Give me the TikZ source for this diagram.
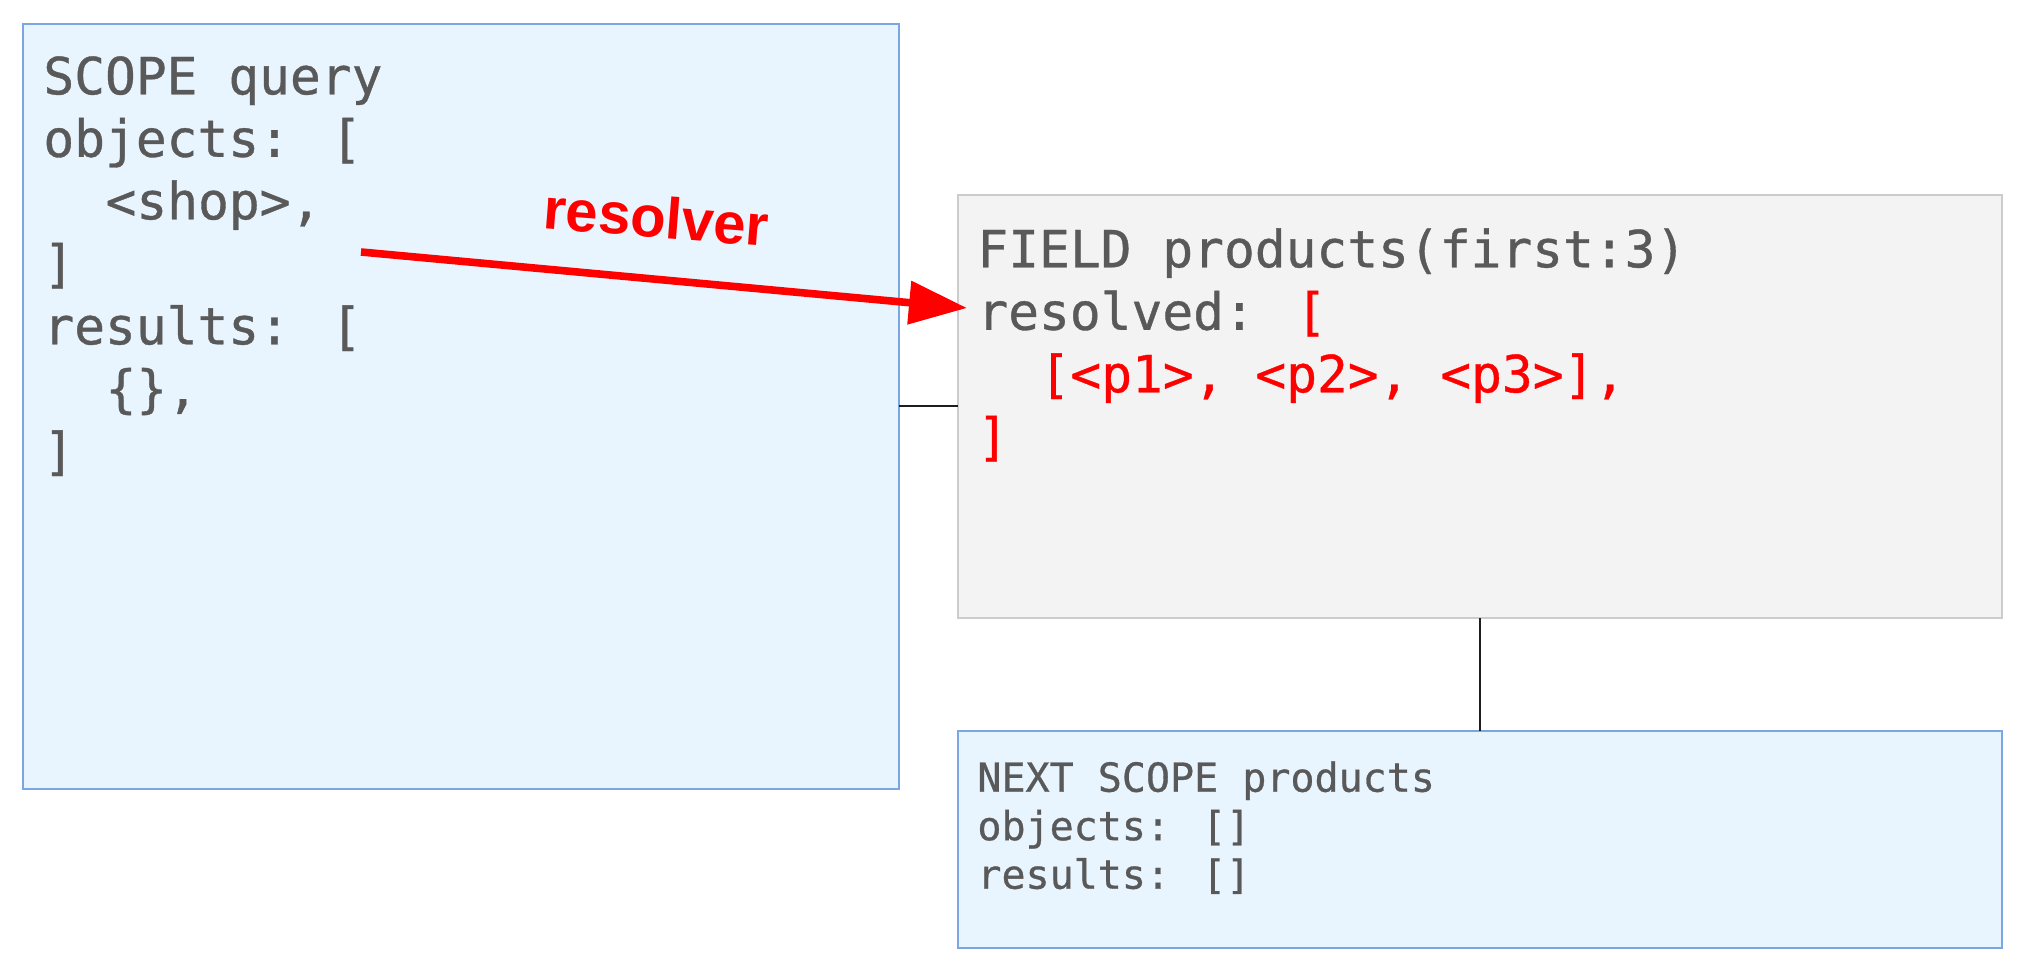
\documentclass[tikz,border=0pt]{standalone}
\usepackage{fontspec}
\setmainfont{Liberation Sans}
\newfontfamily\codefont[UprightFeatures={FakeBold=0.7}]{DejaVu Sans Mono}
\usetikzlibrary{arrows.meta}
\definecolor{txtgray}{RGB}{89,89,89}
\definecolor{scopefill}{RGB}{232,244,254}
\definecolor{scopeline}{RGB}{122,167,228}
\definecolor{fieldfill}{RGB}{243,243,243}
\definecolor{fieldline}{RGB}{204,204,204}
\definecolor{resred}{RGB}{255,0,0}
\definecolor{linkgray}{RGB}{30,30,30}
\begin{document}
\begin{tikzpicture}[x=0.5pt,y=-0.5pt,
  scopebox/.style={draw=scopeline, fill=scopefill, line width=1.3pt, anchor=north west, inner sep=0pt, outer sep=0pt},
  fieldbox/.style={draw=fieldline, fill=fieldfill, line width=1.1pt, anchor=north west, inner sep=0pt, outer sep=0pt},
  bigcode/.style={anchor=base west, inner sep=0pt, text=txtgray, font=\codefont\fontsize{25.6pt}{31pt}\selectfont},
  smallcode/.style={anchor=base west, inner sep=0pt, text=txtgray, font=\codefont\fontsize{20pt}{24pt}\selectfont},
  link/.style={draw=linkgray, line width=1pt}]
\fill[white] (0,0) rectangle (2022,972);
\useasboundingbox (0,0) rectangle (2022,972);
% boxes
\node[scopebox, minimum width=438pt, minimum height=382.5pt] (lbox) at (23,24) {};
\node[fieldbox, minimum width=522pt, minimum height=211.5pt] (gbox) at (958,195) {};
\node[scopebox, minimum width=522pt, minimum height=108.5pt] (nbox) at (958,731) {};
% connectors
\draw[link] (lbox.east) -- (gbox.west);
\draw[link] (gbox.south) -- (nbox.north);
% left box text
\node[bigcode] (l1) at (43,94.3) {SCOPE query};
\node[bigcode] (l2) at (43,156.8) {objects: [};
\node[bigcode] (l3) at (105.2,219.3) {<shop>,};
\node[bigcode] (l4) at (43,281.8) {]};
\node[bigcode] (l5) at (43,344.3) {results: [};
\node[bigcode] (l6) at (105.2,406.8) {\{\},};
\node[bigcode] (l7) at (43,469.3) {]};
% field box text
\node[bigcode] (f1) at (977,267.3) {FIELD products(first:3)};
\node[bigcode] (f2) at (977,329.8) {resolved: \textcolor{resred}{[}};
\node[bigcode, text=resred] (f3) at (1039.2,392.3) {[<p1>, <p2>, <p3>],};
\node[bigcode, text=resred] (f4) at (977,454.8) {]};
% next scope text
\node[smallcode] (n1) at (977,791.7) {NEXT SCOPE products};
\node[smallcode] (n2) at (977,840.2) {objects: []};
\node[smallcode] (n3) at (977,888.7) {results: []};
% resolver arrow
\coordinate (rs) at (361,252);
\coordinate (re) at (967,308);
\draw[resred, line width=3.8pt, -{Triangle[length=29pt,width=21pt]}] (rs) -- (re);
\node[anchor=base, inner sep=0pt, text=resred, font=\bfseries\fontsize{29pt}{34pt}\selectfont, rotate=-4.5] (rlab) at (655,237.5) {resolver};
\end{tikzpicture}
\end{document}
